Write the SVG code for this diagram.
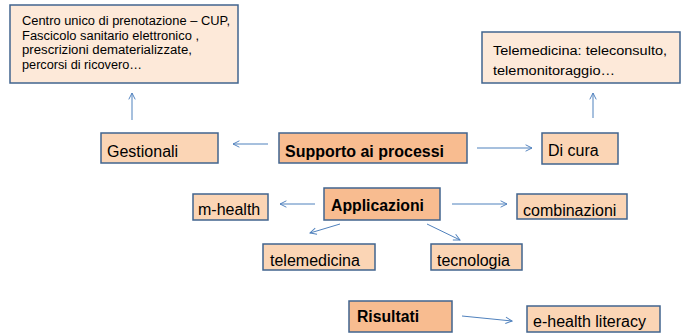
<svg xmlns="http://www.w3.org/2000/svg" width="683" height="333" viewBox="0 0 683 333">
<style>
.light{fill:#FBD5B5;stroke:#41648E;stroke-width:1.5}
.pale{fill:#FDE9D9;stroke:#41648E;stroke-width:1.5}
.dark{fill:#F8BC90;stroke:#41648E;stroke-width:1.5}
.t{font-family:"Liberation Sans",Arial,sans-serif;font-size:16px;fill:#000}
.b{font-family:"Liberation Sans",Arial,sans-serif;font-size:16px;font-weight:bold;fill:#000}
.s{font-family:"Liberation Sans",Arial,sans-serif;font-size:12.5px;fill:#000}
.c{stroke:#4F81BD;stroke-width:1;fill:none;marker-end:url(#ah)}
</style>
<defs>
<marker id="ah" viewBox="0 0 10 10" refX="9" refY="5" markerWidth="8" markerHeight="8" markerUnits="userSpaceOnUse" orient="auto">
<polyline points="1,1 9,5 1,9" fill="none" stroke="#4F81BD" stroke-width="1.2"/>
</marker>
</defs>
<rect width="683" height="333" fill="#fff"/>
<g id="connectors">
<line class="c" x1="132" y1="120" x2="132" y2="93"/>
<line class="c" x1="268" y1="144" x2="233" y2="144"/>
<line class="c" x1="477" y1="148" x2="532" y2="148"/>
<line class="c" x1="593" y1="118" x2="593" y2="93"/>
<line class="c" x1="315" y1="204" x2="280" y2="204"/>
<line class="c" x1="452" y1="204" x2="507" y2="204"/>
<line class="c" x1="340" y1="224" x2="310" y2="233"/>
<line class="c" x1="427" y1="224" x2="460" y2="240"/>
<line class="c" x1="462" y1="316" x2="512" y2="321"/>
</g>
<g id="cup">
<rect class="pale" x="10" y="5" width="228" height="78"/>
<text class="s" x="22" y="25" textLength="208" lengthAdjust="spacingAndGlyphs">Centro unico di prenotazione – CUP,</text>
<text class="s" x="22" y="39.5" textLength="177" lengthAdjust="spacingAndGlyphs">Fascicolo sanitario elettronico ,</text>
<text class="s" x="22" y="54" textLength="170" lengthAdjust="spacingAndGlyphs">prescrizioni dematerializzate,</text>
<text class="s" x="22" y="68.5" textLength="120" lengthAdjust="spacingAndGlyphs">percorsi di ricovero…</text>
</g>
<g id="telemed-box">
<rect class="pale" x="482" y="32" width="198" height="51"/>
<text class="s" x="493" y="55" textLength="174" lengthAdjust="spacingAndGlyphs">Telemedicina: teleconsulto,</text>
<text class="s" x="493" y="75" textLength="122" lengthAdjust="spacingAndGlyphs">telemonitoraggio…</text>
</g>
<g id="gestionali">
<rect class="light" x="101" y="133" width="117" height="30"/>
<text class="t" x="107" y="157">Gestionali</text>
</g>
<g id="supporto">
<rect class="dark" x="279" y="133" width="188" height="30"/>
<text class="b" x="285" y="157" textLength="159" lengthAdjust="spacingAndGlyphs">Supporto ai processi</text>
</g>
<g id="dicura">
<rect class="light" x="542" y="133" width="76" height="31"/>
<text class="t" x="548" y="156">Di cura</text>
</g>
<g id="mhealth">
<rect class="light" x="193" y="194" width="75" height="26"/>
<text class="t" x="198" y="215">m-health</text>
</g>
<g id="applicazioni">
<rect class="dark" x="324" y="188" width="116" height="32"/>
<text class="b" x="331" y="211" textLength="93" lengthAdjust="spacingAndGlyphs">Applicazioni</text>
</g>
<g id="combinazioni">
<rect class="light" x="517" y="194" width="110" height="25"/>
<text class="t" x="523" y="216">combinazioni</text>
</g>
<g id="telemedicina">
<rect class="light" x="263" y="244" width="112" height="26"/>
<text class="t" x="270" y="266">telemedicina</text>
</g>
<g id="tecnologia">
<rect class="light" x="431" y="244" width="91" height="26"/>
<text class="t" x="437" y="266">tecnologia</text>
</g>
<g id="risultati">
<rect class="dark" x="349" y="301" width="103" height="31"/>
<text class="b" x="357" y="322" textLength="62" lengthAdjust="spacingAndGlyphs">Risultati</text>
</g>
<g id="ehealth">
<rect class="light" x="527" y="306" width="133" height="26"/>
<text class="t" x="533" y="327">e-health literacy</text>
</g>
</svg>
